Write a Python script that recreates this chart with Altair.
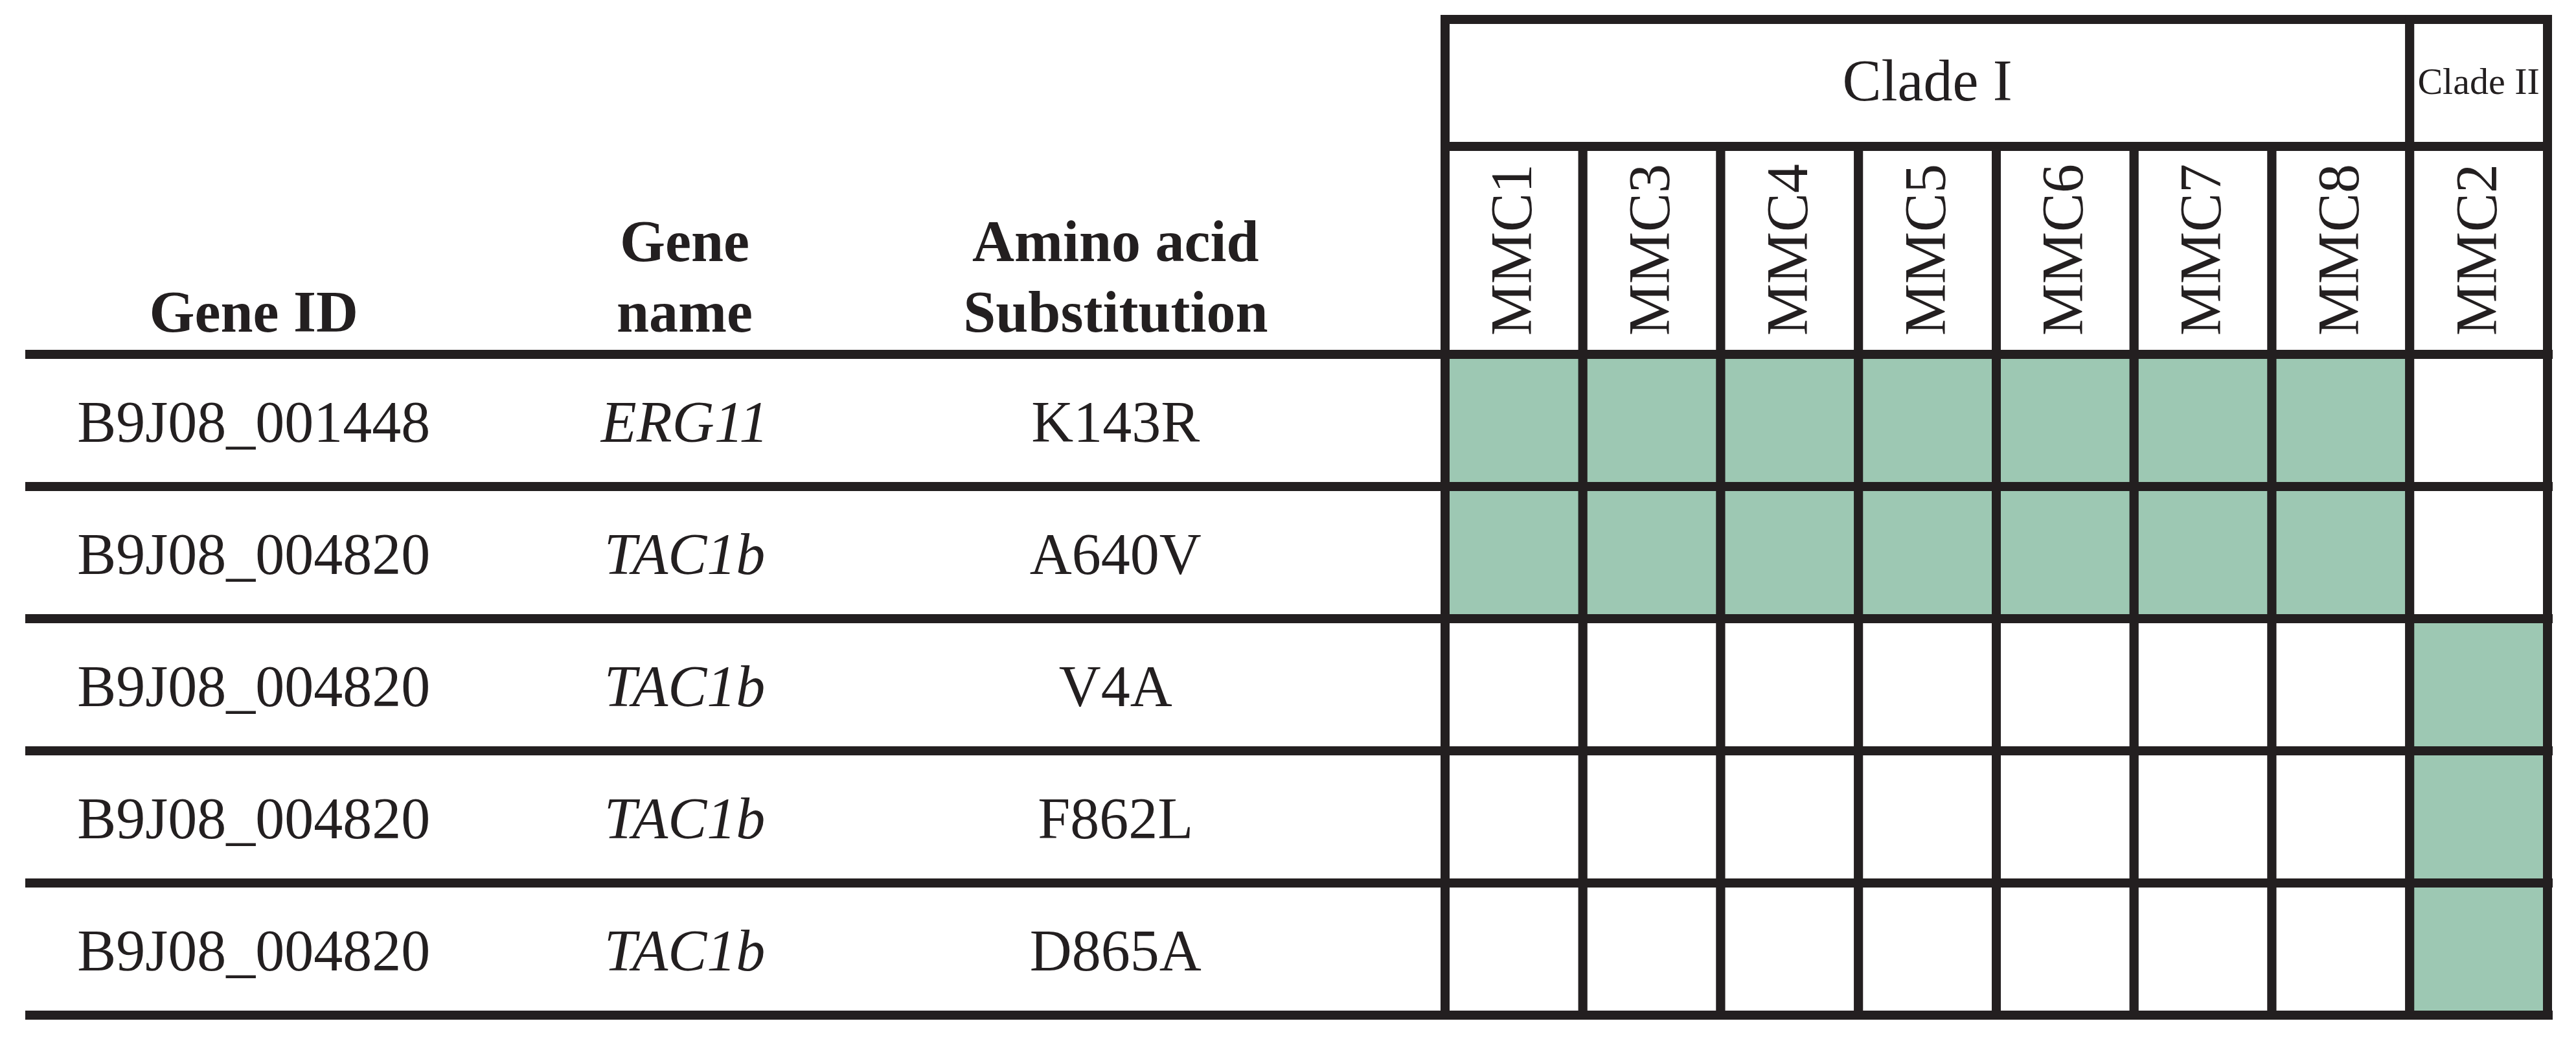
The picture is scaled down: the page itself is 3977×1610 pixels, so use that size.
"""Mutation table: Gene ID / gene / substitution vs. isolates, grouped by clade."""

import altair as alt
import pandas as pd

# ---- data -------------------------------------------------------------
gene_ids = ["B9J08_001448", "B9J08_004820", "B9J08_004820", "B9J08_004820", "B9J08_004820"]
gene_names = ["ERG11", "TAC1b", "TAC1b", "TAC1b", "TAC1b"]
substitutions = ["K143R", "A640V", "V4A", "F862L", "D865A"]

isolates = ["MMC1", "MMC3", "MMC4", "MMC5", "MMC6", "MMC7", "MMC8", "MMC2"]
clade_names = ["Clade I", "Clade II"]
clade_members = [
    ["MMC1", "MMC3", "MMC4", "MMC5", "MMC6", "MMC7", "MMC8"],
    ["MMC2"],
]

# 1 = substitution found in the isolate (same order as isolates)
presence = [
    [1, 1, 1, 1, 1, 1, 1, 0],
    [1, 1, 1, 1, 1, 1, 1, 0],
    [0, 0, 0, 0, 0, 0, 0, 1],
    [0, 0, 0, 0, 0, 0, 0, 1],
    [0, 0, 0, 0, 0, 0, 0, 1],
]

columns = ["Gene ID", "Gene name", "Amino acid Substitution"]
header_lines = [["Gene ID"], ["Gene", "name"], ["Amino acid", "Substitution"]]

# ---- style / layout ---------------------------------------------------
INK = "#231f20"
GREEN = "#9dc8b3"
FONT = "Liberation Serif"
FS = 90
LW = 14

W, H = 3902, 1551
TEXT_RANGE = [20, 2016]
GRID_RANGE = [2192, 3894]
CLADE_RANGE = [7, 203]
HEAD_RANGE = [203, 524]
BODY_RANGE = [524, 1544]
LINE_RANGE = [380, 489]

# ---- tables -----------------------------------------------------------
cells = pd.DataFrame(
    [
        {"substitution": s, "isolate": iso, "present": presence[i][j]}
        for i, s in enumerate(substitutions)
        for j, iso in enumerate(isolates)
    ]
)

body_text = pd.DataFrame(
    [
        {"substitution": s, "col": c, "label": v}
        for s, gid, gn in zip(substitutions, gene_ids, gene_names)
        for c, v in zip(columns, [gid, gn, s])
    ]
)

head_text = pd.DataFrame(
    [
        {"col": c, "slot": slot, "label": txt}
        for c, lines in zip(columns, header_lines)
        for slot, txt in zip(["upper", "lower"][-len(lines):], lines)
    ]
)

iso_df = pd.DataFrame({"isolate": isolates, "level": "isolates"})
clade_df = pd.DataFrame(
    {
        "clade": clade_names,
        "first": [m[0] for m in clade_members],
        "last": [m[-1] for m in clade_members],
        "mid": [m[len(m) // 2] for m in clade_members],
        "level": "clade",
    }
)
row_df = pd.DataFrame({"substitution": substitutions})

# ---- scales -----------------------------------------------------------
x_iso = alt.Scale(type="band", domain=isolates, range=GRID_RANGE, paddingInner=0, paddingOuter=0)
x_text = alt.Scale(type="band", domain=columns, range=TEXT_RANGE, paddingInner=0, paddingOuter=0)
y_body = alt.Scale(type="band", domain=substitutions, range=BODY_RANGE, paddingInner=0, paddingOuter=0)
y_head = alt.Scale(type="band", domain=["isolates"], range=HEAD_RANGE, paddingInner=0, paddingOuter=0)
y_clade = alt.Scale(type="band", domain=["clade"], range=CLADE_RANGE, paddingInner=0, paddingOuter=0)
y_line = alt.Scale(type="point", domain=["upper", "lower"], range=LINE_RANGE, padding=0)

# ---- layers -----------------------------------------------------------
cell_rect = (
    alt.Chart(cells)
    .mark_rect(stroke=INK, strokeWidth=LW)
    .encode(
        x=alt.X("isolate:N", scale=x_iso, axis=None),
        y=alt.Y("substitution:N", scale=y_body, axis=None),
        color=alt.Color(
            "present:N", scale=alt.Scale(domain=[1, 0], range=[GREEN, "white"]), legend=None
        ),
    )
)

head_rect = (
    alt.Chart(iso_df)
    .mark_rect(fill="white", stroke=INK, strokeWidth=LW)
    .encode(
        x=alt.X("isolate:N", scale=x_iso, axis=None),
        y=alt.Y("level:N", scale=y_head, axis=None),
    )
)

clade_rect = (
    alt.Chart(clade_df)
    .mark_rect(fill="white", stroke=INK, strokeWidth=LW)
    .encode(
        x=alt.X("first:N", scale=x_iso, bandPosition=0, axis=None),
        x2=alt.X2("last:N", bandPosition=1),
        y=alt.Y("level:N", scale=y_clade, axis=None),
    )
)

row_rules = (
    alt.Chart(row_df)
    .mark_rule(color=INK, strokeWidth=LW)
    .encode(y=alt.Y("substitution:N", scale=y_body, bandPosition=1, axis=None))
)

head_rule = (
    alt.Chart(iso_df.head(1))
    .mark_rule(color=INK, strokeWidth=LW)
    .encode(y=alt.Y("level:N", scale=y_head, bandPosition=1, axis=None))
)

body_plain = (
    alt.Chart(body_text)
    .transform_filter(alt.datum.col != "Gene name")
    .mark_text(font=FONT, fontSize=FS, color=INK, baseline="alphabetic", dy=33)
    .encode(
        x=alt.X("col:N", scale=x_text, axis=None),
        y=alt.Y("substitution:N", scale=y_body, axis=None),
        text="label:N",
    )
)

body_italic = (
    alt.Chart(body_text)
    .transform_filter(alt.datum.col == "Gene name")
    .mark_text(font=FONT, fontSize=FS, fontStyle="italic", color=INK, baseline="alphabetic", dy=33)
    .encode(
        x=alt.X("col:N", scale=x_text, axis=None),
        y=alt.Y("substitution:N", scale=y_body, axis=None),
        text="label:N",
    )
)

head_labels = (
    alt.Chart(head_text)
    .mark_text(font=FONT, fontSize=FS, fontWeight="bold", color=INK, baseline="alphabetic")
    .encode(
        x=alt.X("col:N", scale=x_text, axis=None),
        y=alt.Y("slot:N", scale=y_line, axis=None),
        text="label:N",
    )
)

iso_labels = (
    alt.Chart(iso_df)
    .mark_text(
        font=FONT, fontSize=FS, color=INK, angle=270, align="left",
        baseline="alphabetic", dx=29, dy=27,
    )
    .encode(
        x=alt.X("isolate:N", scale=x_iso, axis=None),
        y=alt.Y("level:N", scale=y_head, bandPosition=1, axis=None),
        text="isolate:N",
    )
)

clade_labels = (
    alt.Chart(clade_df)
    .mark_text(font=FONT, color=INK, baseline="middle")
    .encode(
        x=alt.X("mid:N", scale=x_iso, axis=None),
        y=alt.Y("level:N", scale=y_clade, axis=None),
        text="clade:N",
        size=alt.Size("clade:N", scale=alt.Scale(domain=clade_names, range=[FS, 58]), legend=None),
    )
)

chart = (
    alt.layer(
        head_rect, clade_rect, cell_rect, row_rules, head_rule,
        body_plain, body_italic, head_labels, iso_labels, clade_labels,
    )
    .resolve_scale(x="independent", y="independent", color="independent", size="independent")
    .properties(
        width=W,
        height=H,
        autosize="none",
        padding={"left": 31, "top": 15, "right": 28, "bottom": 20},
        background="white",
    )
    .configure_view(strokeWidth=0)
)

chart.save("out.html", embed_options={"renderer": "svg", "actions": False})
